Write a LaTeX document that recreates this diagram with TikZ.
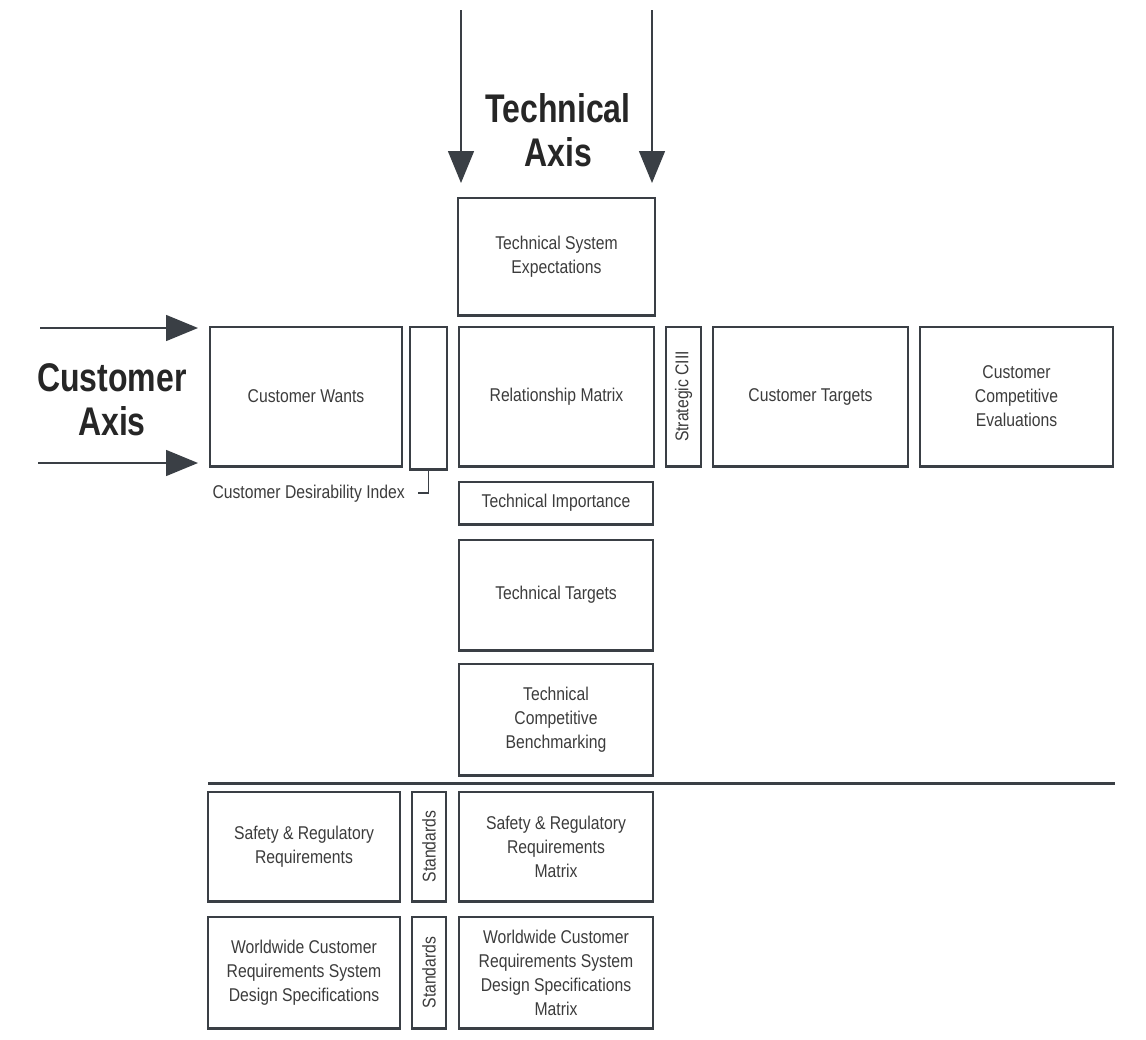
\documentclass[tikz,border=0pt]{standalone}
\usepackage{fontspec}
\setmainfont{Liberation Sans}
\newfontfamily\labfont[FakeStretch=0.85]{Liberation Sans}
\newfontfamily\axisfont[FakeStretch=0.8]{Liberation Sans}
\usetikzlibrary{arrows.meta}
\definecolor{ink}{HTML}{3A3F45}
\definecolor{txt}{HTML}{3C3C3C}
\begin{document}
\begin{tikzpicture}[x=1pt,y=-1pt,
  lblfont/.style={font=\labfont\fontsize{18.5}{24}\selectfont},
  qbox/.style={draw=ink, line width=1.4pt, rectangle, inner sep=2pt,
    align=center, text=txt, lblfont},
  axislbl/.style={align=center, text=black!85, font=\axisfont\bfseries\fontsize{40}{44}\selectfont},
  axisarrow/.style={draw=ink, line width=1.5pt, -{Triangle[length=32pt,width=26pt]}},
  rule/.style={draw=ink, line width=3pt}]
\useasboundingbox (0,0) rectangle (1146,1039);
\fill[white] (0,0) rectangle (1146,1039);

% top block
\node[qbox, minimum width=197pt, minimum height=117pt] (tse) at (556.5,256.5) {Technical System\\Expectations};

% customer row
\node[qbox, minimum width=192pt, minimum height=139pt] (cw) at (306,396.5) {Customer Wants};
\node[qbox, minimum width=37pt, minimum height=142pt] (cdi) at (428.5,398) {};
\node[qbox, minimum width=195pt, minimum height=139pt] (rm) at (556.5,396.5) {Relationship Matrix};
\node[qbox, minimum width=35pt, minimum height=139pt] (sc) at (683.5,396.5) {};
\node[text=txt, lblfont, rotate=90] (sclbl) at (sc.center) {Strategic CIII};
\node[qbox, minimum width=195pt, minimum height=139pt] (ct) at (810.5,396.5) {Customer Targets};
\node[qbox, minimum width=193pt, minimum height=139pt] (cce) at (1016.5,396.5) {Customer\\Competitive\\Evaluations};

% technical column
\node[qbox, minimum width=194pt, minimum height=42pt] (ti) at (556,503) {Technical Importance};
\node[qbox, minimum width=194pt, minimum height=110pt] (tt) at (556,595) {Technical Targets};
\node[qbox, minimum width=194pt, minimum height=111pt] (tcb) at (556,719.5) {Technical\\Competitive\\Benchmarking};

% lower section
\node[qbox, minimum width=192pt, minimum height=109pt] (srr) at (304,846.5) {Safety \& Regulatory\\Requirements};
\node[qbox, minimum width=34pt, minimum height=109pt] (std1) at (429,846.5) {};
\node[text=txt, lblfont, rotate=90] at (std1.center) {Standards};
\node[qbox, minimum width=194pt, minimum height=109pt] (srm) at (556,846.5) {Safety \& Regulatory\\Requirements\\Matrix};
\node[qbox, minimum width=192pt, minimum height=111pt] (wcr) at (304,972.5) {Worldwide Customer\\Requirements System\\Design Specifications};
\node[qbox, minimum width=34pt, minimum height=111pt] (std2) at (429,972.5) {};
\node[text=txt, lblfont, rotate=90] at (std2.center) {Standards};
\node[qbox, minimum width=194pt, minimum height=111pt] (wcm) at (556,972.5) {Worldwide Customer\\Requirements System\\Design Specifications\\Matrix};

% heavier bottom edges
\foreach \n in {tse,cw,cdi,rm,sc,ct,cce,ti,tt,tcb,srr,std1,srm,wcr,std2,wcm}
  \draw[draw=ink, line width=3pt] (\n.south west) -- (\n.south east);

% separator rule
\coordinate (rl) at (208,783);
\coordinate (rr) at (1115,783);
\draw[rule] (rl) -- (rr);

% desirability index label and leader
\node[anchor=east, inner sep=0pt, text=txt, lblfont] (cdil) at (405,494) {Customer Desirability Index};
\coordinate (cdik) at (428.5,493);
\coordinate (cdie) at (418,493);
\draw[draw=ink, line width=1.2pt] (cdi.south) -- (cdik) -- (cdie);

% axis labels
\node[axislbl] (tax) at (558,130) {Technical\\Axis};
\node[axislbl] (cax) at (112,400) {Customer\\Axis};

% axis arrows
\coordinate (ta1s) at (461,10);
\coordinate (ta1e) at (461,183);
\coordinate (ta2s) at (652,10);
\coordinate (ta2e) at (652,183);
\coordinate (ca1s) at (40,328);
\coordinate (ca1e) at (198,328);
\coordinate (ca2s) at (38,463);
\coordinate (ca2e) at (198,463);
\draw[axisarrow] (ta1s) -- (ta1e);
\draw[axisarrow] (ta2s) -- (ta2e);
\draw[axisarrow] (ca1s) -- (ca1e);
\draw[axisarrow] (ca2s) -- (ca2e);
\end{tikzpicture}
\end{document}
